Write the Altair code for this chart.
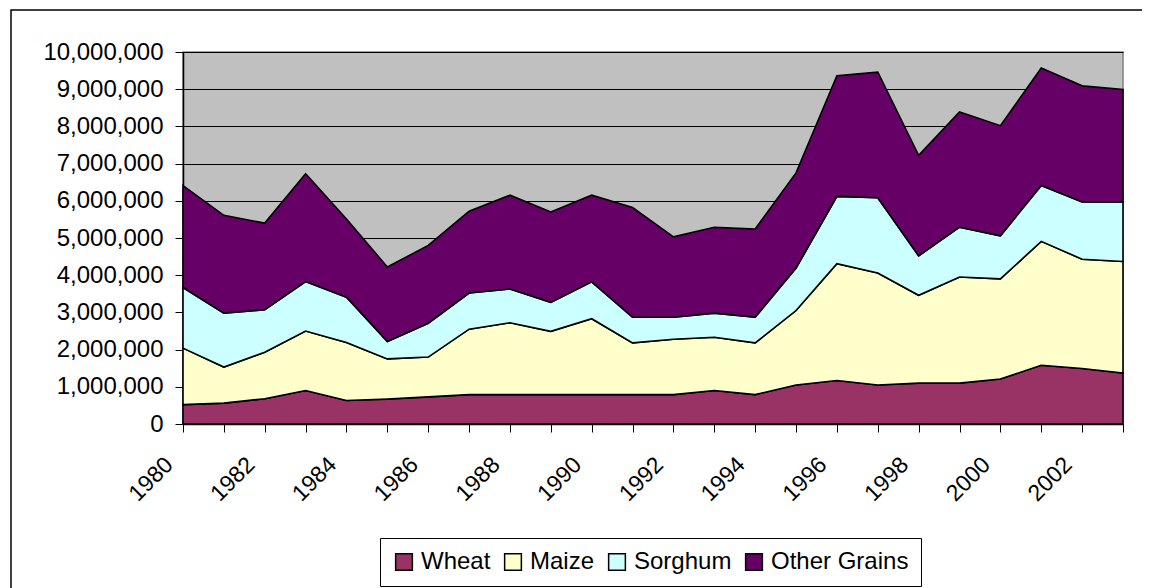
import altair as alt
import pandas as pd

years = list(range(1980, 2004))
series = ["Wheat", "Maize", "Sorghum", "Other Grains"]
colors = ["#993366", "#FFFFCC", "#CCFFFF", "#660066"]

wheat = [520000, 560000, 680000, 900000, 630000, 670000, 730000, 790000, 790000, 790000,
         790000, 790000, 790000, 900000, 790000, 1050000, 1170000, 1050000, 1100000, 1100000,
         1210000, 1580000, 1490000, 1370000]
maize = [1520000, 970000, 1250000, 1600000, 1560000, 1080000, 1070000, 1760000, 1930000, 1700000,
         2040000, 1390000, 1490000, 1430000, 1390000, 2000000, 3140000, 3010000, 2360000, 2850000,
         2690000, 3330000, 2940000, 3000000]
sorghum = [1630000, 1450000, 1140000, 1330000, 1220000, 470000, 910000, 970000, 910000, 780000,
           990000, 690000, 590000, 650000, 690000, 1140000, 1810000, 2020000, 1060000, 1340000,
           1160000, 1500000, 1540000, 1600000]
other = [2740000, 2630000, 2330000, 2900000, 2100000, 2000000, 2090000, 2200000, 2520000, 2430000,
         2330000, 2950000, 2160000, 2310000, 2370000, 2560000, 3240000, 3380000, 2700000, 3100000,
         2960000, 3160000, 3120000, 3020000]

values = [wheat, maize, sorghum, other]
rows = []
for k, (name, vals) in enumerate(zip(series, values)):
    for yr, v in zip(years, vals):
        rows.append({"Year": yr, "Series": name, "Value": v, "order": k})
df = pd.DataFrame(rows)

FONT = "Liberation Sans"
W, H = 940, 372

area = alt.Chart(df).mark_area(stroke="black", strokeWidth=1.6, opacity=1).encode(
    x=alt.X("Year:Q",
            scale=alt.Scale(domain=[1980, 2003], nice=False, zero=False),
            axis=alt.Axis(values=years, format="d",
                          labelExpr="datum.value % 2 == 0 ? datum.label : ''",
                          labelAngle=315, labelAlign="right", labelBaseline="top",
                          labelPadding=21, labelOffset=-22,
                          tickSize=8, tickColor="black", domainColor="black",
                          grid=False, title=None, labelFontSize=23, labelFont=FONT,
                          labelColor="black", labelOverlap=False)),
    y=alt.Y("Value:Q", stack="zero",
            scale=alt.Scale(domain=[0, 10000000], nice=False),
            axis=alt.Axis(values=[i * 1000000 for i in range(11)], format=",d",
                          tickSize=8, tickColor="black", domainColor="black",
                          gridColor="black", gridWidth=1, grid=True,
                          labelPadding=12, title=None, labelFontSize=24,
                          labelFont=FONT, labelColor="black")),
    color=alt.Color("Series:N",
                    scale=alt.Scale(domain=series, range=colors),
                    legend=alt.Legend(title=None, orient="none", direction="horizontal",
                                      legendX=197, legendY=486,
                                      symbolType="square", symbolSize=280,
                                      symbolStrokeColor="black", symbolStrokeWidth=1.5,
                                      labelFontSize=24, labelFont=FONT, labelColor="black",
                                      columnPadding=10, labelOffset=5,
                                      strokeColor="black", fillColor="white",
                                      padding=12)),
    order=alt.Order("order:Q", sort="ascending"),
)

frame = alt.Chart(pd.DataFrame({"a": [0]})).mark_rect(
    fillOpacity=0, stroke="black", strokeWidth=1.5
).encode(
    x=alt.value(-172), x2=alt.value(980), y=alt.value(-42), y2=alt.value(560)
)

chart = alt.layer(frame, area).properties(
    width=W, height=H,
    padding={"left": 175, "top": 44, "right": 19, "bottom": 164},
    autosize=alt.AutoSizeParams(type="none"),
    background="white",
).configure_view(
    fill="#C0C0C0", stroke="#808080", strokeWidth=1.5
).configure_axis(
    domainWidth=1.5
)

chart.save("out.html", embed_options={"renderer": "svg", "actions": False})
